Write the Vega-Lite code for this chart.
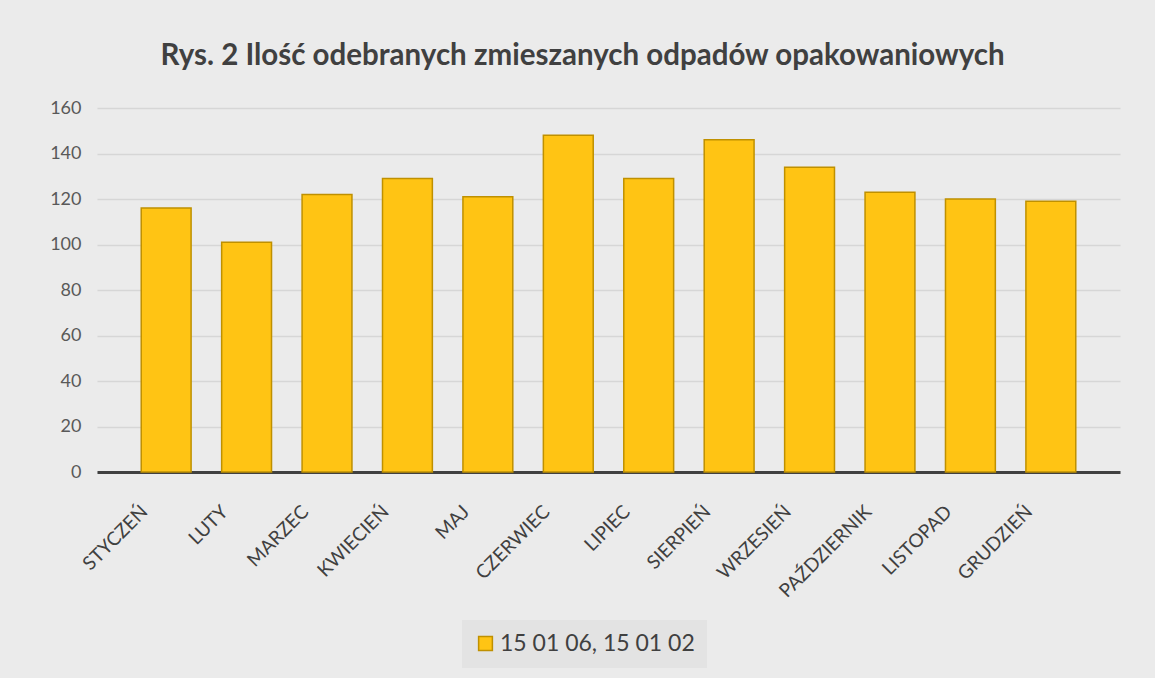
{
  "$schema": "https://vega.github.io/schema/vega-lite/v6.json",
  "autosize": {"type": "none"},
  "width": 1023,
  "height": 364,
  "padding": {"left": 97, "top": 108, "right": 35, "bottom": 206},
  "background": "#ebebeb",
  "title": {
    "text": "Rys. 2 Ilość odebranych zmieszanych odpadów opakowaniowych",
    "font": "Lato",
    "fontSize": 29.5,
    "fontWeight": "bold",
    "color": "#404040",
    "anchor": "middle",
    "dx": -26,
    "offset": 28
  },
  "data": {
    "values": [
      {"miesiac": "STYCZEŃ", "wartosc": 116, "seria": "15 01 06, 15 01 02"},
      {"miesiac": "LUTY", "wartosc": 101, "seria": "15 01 06, 15 01 02"},
      {"miesiac": "MARZEC", "wartosc": 122, "seria": "15 01 06, 15 01 02"},
      {"miesiac": "KWIECIEŃ", "wartosc": 129, "seria": "15 01 06, 15 01 02"},
      {"miesiac": "MAJ", "wartosc": 121, "seria": "15 01 06, 15 01 02"},
      {"miesiac": "CZERWIEC", "wartosc": 148, "seria": "15 01 06, 15 01 02"},
      {"miesiac": "LIPIEC", "wartosc": 129, "seria": "15 01 06, 15 01 02"},
      {"miesiac": "SIERPIEŃ", "wartosc": 146, "seria": "15 01 06, 15 01 02"},
      {"miesiac": "WRZESIEŃ", "wartosc": 134, "seria": "15 01 06, 15 01 02"},
      {"miesiac": "PAŹDZIERNIK", "wartosc": 123, "seria": "15 01 06, 15 01 02"},
      {"miesiac": "LISTOPAD", "wartosc": 120, "seria": "15 01 06, 15 01 02"},
      {"miesiac": "GRUDZIEŃ", "wartosc": 119, "seria": "15 01 06, 15 01 02"}
    ]
  },
  "mark": {"type": "bar", "stroke": "#BF9000", "strokeWidth": 1.5},
  "encoding": {
    "x": {
      "field": "miesiac",
      "type": "nominal",
      "sort": null,
      "scale": {"paddingInner": 0.38, "paddingOuter": 0.55},
      "axis": {
        "title": null,
        "labelAngle": -45,
        "labelFont": "Lato",
        "labelFontSize": 19,
        "labelColor": "#404040",
        "labelPadding": 30,
        "labelOffset": -28,
        "labelLimit": 0,
        "ticks": false,
        "domainColor": "#404040",
        "domainWidth": 3
      }
    },
    "y": {
      "field": "wartosc",
      "type": "quantitative",
      "scale": {"domain": [0, 160]},
      "axis": {
        "title": null,
        "values": [0, 20, 40, 60, 80, 100, 120, 140, 160],
        "labelFont": "Lato",
        "labelFontSize": 18,
        "labelColor": "#595959",
        "labelPadding": 16,
        "ticks": false,
        "domain": false,
        "gridColor": "#d6d6d6",
        "gridWidth": 1.5
      }
    },
    "color": {
      "field": "seria",
      "type": "nominal",
      "scale": {"range": ["#FFC414"]},
      "legend": {
        "title": null,
        "orient": "none",
        "legendX": 365,
        "legendY": 512,
        "symbolType": "square",
        "symbolSize": 190,
        "symbolStrokeColor": "#BF9000",
        "symbolStrokeWidth": 1.5,
        "labelFont": "Lato",
        "labelFontSize": 23,
        "labelColor": "#404040",
        "labelLimit": 0,
        "fillColor": "#e3e3e3",
        "padding": 12,
        "labelOffset": 3
      }
    }
  },
  "config": {"view": {"stroke": null}}
}
